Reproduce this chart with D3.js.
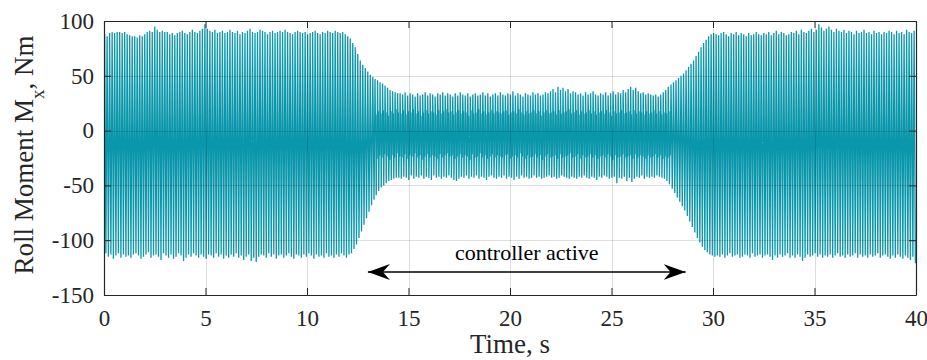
<!DOCTYPE html>
<html><head><meta charset="utf-8">
<script src="https://cdn.jsdelivr.net/npm/d3@7"></script>
<style>
html,body{margin:0;padding:0;background:#fff;}
svg{display:block;}
svg text{font-family:"Liberation Serif","Times New Roman",Tinos,Times,"DejaVu Serif",serif !important;}
</style></head>
<body><svg id="chart" width="927" height="360"></svg>
<script>
// Oscillation: ~8.1 cycles per second, one positive and one negative peak per cycle
const cycleHz = 8.1;
const xTicks = [0, 5, 10, 15, 20, 25, 30, 35, 40];
const yTicks = [-150, -100, -50, 0, 50, 100];
const xLabel = "Time, s";
const annotation = "controller active";
const arrowSpan = [13.0, 28.65];
const arrowLevel = -129;

const hiPeaks = [
 88, 86, 89, 90, 89, 90, 90, 89, 90, 88,
 87, 86, 86, 85, 87, 86, 88, 90, 91, 90,
 95, 92, 90, 91, 90, 90, 88, 89, 87, 89,
 90, 91, 89, 88, 90, 92, 90, 89, 91, 93,
 97, 93, 91, 90, 92, 89, 90, 91, 89, 90,
 92, 90, 89, 91, 88, 90, 89, 91, 93, 90,
 89, 90, 92, 91, 90, 88, 90, 91, 89, 90,
 91, 90, 92, 90, 89, 88, 90, 91, 90, 89,
 90, 88, 89, 90, 91, 89, 88, 90, 89, 91,
 90, 89, 91, 90, 89, 90, 88, 86, 84, 80,
 76, 70, 64, 60, 57, 54, 51, 49, 47, 46,
 44, 43, 41, 39, 37, 36, 35, 34,
 34, 33, 35, 32, 34, 33, 31, 34, 32, 33,
 35, 32, 34, 33, 31, 34, 33, 35, 32, 34,
 33, 31, 34, 32, 35, 33, 32, 34, 31, 33,
 34, 32, 33, 35, 32, 34, 31, 33, 34, 32,
 35, 33, 32, 34, 33, 36, 32, 34, 33, 31,
 34, 33, 32, 35, 33, 34, 32, 33, 35, 34,
 36, 38, 35, 40, 37, 39, 36, 38, 34, 36,
 35, 33, 34, 32, 35, 33, 34, 36, 33, 32,
 34, 33, 35, 32, 34, 36, 33, 35, 34, 37,
 35, 38, 40, 37, 39, 36, 34, 35, 33, 34,
 33, 32, 33, 31,
 33, 35, 37, 40, 42, 44, 46, 48, 50, 52,
 55, 58, 61, 64, 68, 72, 76, 80, 83, 86,
 88, 89,
 88, 87, 89, 90, 88, 86, 89, 88, 90, 87,
 89, 88, 86, 89, 87, 88, 90, 88, 87, 89,
 88, 90, 87, 89, 91, 88, 90, 89, 87, 88,
 90, 89, 91, 88, 92, 90, 89, 91, 93, 90,
 92, 97, 94, 91, 93, 95, 92, 90, 93, 91,
 90, 92, 89, 91, 90, 88, 91, 89, 90, 92,
 89, 90, 88, 91, 89, 90, 88, 90, 89, 91,
 90, 88, 91, 89, 90, 88, 92, 90, 89, 91
];

const loPeaks = [
 -112, -115, -113, -117, -114, -112, -116, -113, -115, -114,
 -116, -113, -112, -114, -117, -115, -113, -111, -116, -114,
 -113, -115, -118, -112, -114, -116, -113, -117, -115, -112,
 -114, -119, -116, -113, -115, -112, -114, -116, -113, -115,
 -117, -113, -114, -116, -112, -115, -113, -117, -114, -116,
 -113, -115, -112, -116, -114, -118, -115, -113, -119, -116,
 -120, -115, -113, -114, -116, -112, -115, -113, -117, -114,
 -113, -116, -114, -112, -115, -117, -113, -114, -116, -113,
 -115, -112, -114, -117, -113, -115, -114, -116, -112, -115,
 -114, -116, -113, -115, -112, -114, -116, -113, -112, -108,
 -104, -98, -92, -86, -80, -74, -68, -63, -59, -55,
 -52, -50, -48, -46, -45, -44, -43, -43,
 -44, -42, -43, -45, -41, -44, -42, -43, -41, -44,
 -42, -43, -45, -41, -43, -42, -44, -42, -43, -41,
 -43, -45, -46, -44, -42, -43, -41, -44, -42, -43,
 -41, -44, -42, -43, -45, -42, -41, -43, -44, -42,
 -43, -41, -44, -42, -43, -45, -42, -44, -41, -43,
 -42, -44, -43, -41, -43, -42, -44, -43, -42, -41,
 -43, -42, -44, -43, -41, -42, -43, -44, -42, -43,
 -44, -42, -43, -41, -43, -44, -42, -43, -45, -42,
 -43, -41, -42, -44, -43, -42, -48, -43, -44, -42,
 -46, -43, -47, -44, -42, -43, -41, -44, -42, -43,
 -42, -43, -41, -42,
 -43, -44, -46, -49, -53, -57, -61, -65, -69, -73,
 -78, -83, -88, -93, -98, -102, -106, -109, -111, -113,
 -114, -115,
 -114, -115, -113, -116, -114, -112, -115, -114, -113, -116,
 -115, -113, -114, -116, -112, -115, -114, -113, -116, -114,
 -113, -115, -118, -114, -116, -113, -115, -114, -112, -116,
 -114, -116, -113, -115, -119, -116, -113, -115, -114, -112,
 -115, -113, -116, -114, -115, -113, -116, -114, -112, -115,
 -114, -116, -113, -115, -114, -112, -116, -113, -115, -114,
 -116, -113, -115, -114, -112, -116, -114, -113, -115, -117,
 -114, -116, -113, -115, -117, -114, -116, -118, -115, -121
];

// Short shoulders (plateaus) on the way down / up seen while the controller is
// active, one per cycle starting at cycle innerStart
const innerStart = 108;
const innerLow = [
 -25, -22, -24, -21, -23, -26, -22, -24, -20, -23,
 -24, -21, -25, -22, -23, -20, -24, -22, -26, -23,
 -21, -24, -22, -23, -25, -21, -24, -22, -20, -23,
 -22, -25, -23, -21, -24, -22, -23, -26, -21, -24,
 -23, -20, -24, -22, -25, -23, -21, -24, -22, -23,
 -24, -22, -21, -25, -23, -22, -24, -20, -23, -25,
 -22, -24, -23, -21, -24, -22, -26, -23, -21, -24,
 -23, -22, -25, -21, -24, -23, -22, -20, -24, -23,
 -21, -25, -22, -24, -23, -21, -24, -22, -25, -23,
 -22, -24, -21, -23, -26, -22, -24, -23, -21, -24,
 -23, -22, -25, -21, -24, -22, -23, -25, -22, -24,
 -23, -21, -24, -22, -25, -23, -24, -22
];
const innerHigh = [
 14, 17, 15, 18, 16, 13, 17, 15, 19, 16,
 15, 18, 14, 17, 16, 19, 15, 17, 13, 16,
 18, 15, 17, 16, 14, 18, 15, 17, 19, 16,
 17, 14, 16, 18, 15, 17, 16, 13, 18, 15,
 16, 19, 15, 17, 14, 16, 18, 15, 17, 16,
 15, 17, 18, 14, 16, 17, 15, 19, 16, 14,
 17, 15, 16, 18, 15, 17, 13, 16, 18, 15,
 16, 17, 14, 18, 15, 16, 17, 19, 15, 16,
 18, 14, 17, 15, 16, 18, 15, 17, 14, 16,
 17, 15, 18, 16, 13, 17, 15, 16, 18, 15,
 16, 17, 14, 18, 15, 17, 16, 14, 17, 15,
 16, 18, 15, 17, 14, 16, 15, 17
];

// Build the time series (t, value) from the peak arrays
const series = [];
const n = Math.min(hiPeaks.length, loPeaks.length);
series.push({t: 0, v: 0});
for (let i = 0; i < n; i++) {
  const k = i - innerStart;
  if (k >= 0 && k < innerLow.length) {
    series.push({t: (i + 0.15) / cycleHz, v: hiPeaks[i]});
    series.push({t: (i + 0.27) / cycleHz, v: innerHigh[k]});
    series.push({t: (i + 0.45) / cycleHz, v: innerHigh[k]});
    series.push({t: (i + 0.62) / cycleHz, v: loPeaks[i]});
    series.push({t: (i + 0.76) / cycleHz, v: innerLow[k]});
    series.push({t: (i + 0.95) / cycleHz, v: innerLow[k]});
  } else {
    series.push({t: (i + 0.25) / cycleHz, v: hiPeaks[i]});
    series.push({t: (i + 0.75) / cycleHz, v: loPeaks[i]});
  }
}

const svg = d3.select("#chart");
const margin = {left: 104, right: 11, top: 21, bottom: 65};
const W = 927, H = 360;
const x = d3.scaleLinear().domain([0, 40]).range([margin.left, W - margin.right]);
const y = d3.scaleLinear().domain([-150, 100]).range([H - margin.bottom, margin.top]);

const defs = svg.append("defs");
defs.append("clipPath").attr("id", "clip").append("rect")
  .attr("x", x(0)).attr("y", y(100)).attr("width", x(40) - x(0)).attr("height", y(-150) - y(100));

// data line
svg.append("path")
  .datum(series)
  .attr("clip-path", "url(#clip)")
  .attr("fill", "none")
  .attr("stroke", "#0a97ab")
  .attr("stroke-width", 1.3)
  .attr("stroke-linejoin", "miter")
  .attr("d", d3.line().x(d => x(d.t)).y(d => y(d.v)));

// grid (drawn on top, translucent)
const grid = svg.append("g").attr("stroke", "#000").attr("stroke-opacity", 0.13).attr("stroke-width", 1);
xTicks.slice(1, -1).forEach(v => {
  grid.append("line").attr("x1", Math.round(x(v)) + 0.5).attr("x2", Math.round(x(v)) + 0.5)
    .attr("y1", y(100)).attr("y2", y(-150));
});
yTicks.slice(1, -1).forEach(v => {
  grid.append("line").attr("y1", Math.round(y(v)) + 0.5).attr("y2", Math.round(y(v)) + 0.5)
    .attr("x1", x(0)).attr("x2", x(40));
});

// axes (ticks inward, box with ticks on all sides)
const tickLen = 7;
const axisColor = "#262626";
const fmt = d => String(d);
const gBottom = svg.append("g").attr("transform", `translate(0,${y(-150)})`)
  .call(d3.axisBottom(x).tickValues(xTicks).tickFormat(fmt).tickSizeInner(-tickLen).tickSizeOuter(0).tickPadding(15));
const gTop = svg.append("g").attr("transform", `translate(0,${y(100)})`)
  .call(d3.axisTop(x).tickValues(xTicks).tickSizeInner(-tickLen).tickSizeOuter(0).tickFormat(""));
const gLeft = svg.append("g").attr("transform", `translate(${x(0)},0)`)
  .call(d3.axisLeft(y).tickValues(yTicks).tickFormat(fmt).tickSizeInner(-tickLen).tickSizeOuter(0).tickPadding(10));
const gRight = svg.append("g").attr("transform", `translate(${x(40)},0)`)
  .call(d3.axisRight(y).tickValues(yTicks).tickSizeInner(-tickLen).tickSizeOuter(0).tickFormat(""));
[gBottom, gTop, gLeft, gRight].forEach(g => {
  g.attr("font-family", null).attr("font-size", null);
  g.selectAll("path.domain").attr("stroke", axisColor).attr("stroke-width", 1.2);
  g.selectAll(".tick line").attr("stroke", axisColor).attr("stroke-width", 1);
  g.selectAll("text").attr("fill", "#262626")
    .style("font-family", '"Liberation Serif", serif').style("font-size", "23px");
});

// axis labels
svg.append("text")
  .attr("x", (x(0) + x(40)) / 2).attr("y", 353)
  .attr("text-anchor", "middle").attr("fill", "#262626")
  .style("font-size", "27px").text(xLabel);

const yl = svg.append("text")
  .attr("transform", `translate(33,${(y(100) + y(-150)) / 2 - 3}) rotate(-90)`)
  .attr("text-anchor", "middle").attr("fill", "#262626").style("font-size", "27px");
yl.append("tspan").text("Roll Moment M");
yl.append("tspan").attr("baseline-shift", "sub").style("font-size", "19px").text("x");
yl.append("tspan").text(", Nm");

// annotation arrow
defs.append("marker").attr("id", "ah").attr("viewBox", "0 0 22 16")
  .attr("refX", 22).attr("refY", 8).attr("markerWidth", 22).attr("markerHeight", 16)
  .attr("markerUnits", "userSpaceOnUse").attr("orient", "auto-start-reverse")
  .append("path").attr("d", "M0,0 L22,8 L0,16 L7,8 Z").attr("fill", "#000");
svg.append("line")
  .attr("x1", x(arrowSpan[0])).attr("x2", x(arrowSpan[1]))
  .attr("y1", y(arrowLevel)).attr("y2", y(arrowLevel))
  .attr("stroke", "#000").attr("stroke-width", 1.3)
  .attr("marker-start", "url(#ah)").attr("marker-end", "url(#ah)");
svg.append("text")
  .attr("x", x((arrowSpan[0] + arrowSpan[1]) / 2)).attr("y", y(arrowLevel) - 12)
  .attr("text-anchor", "middle").attr("fill", "#000")
  .style("font-size", "22px").text(annotation);
</script></body></html>
